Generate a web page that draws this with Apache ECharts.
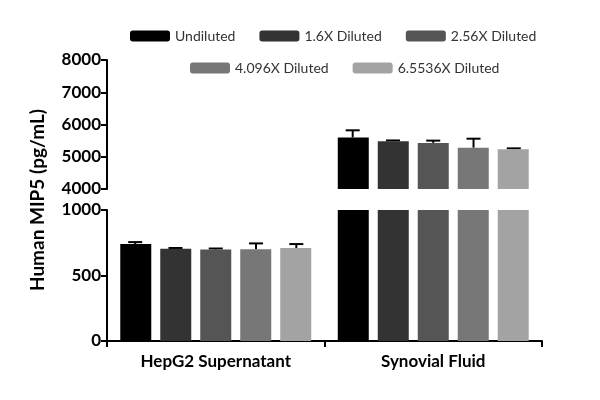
<!DOCTYPE html>
<html><head><meta charset="utf-8">
<script src="https://cdn.jsdelivr.net/npm/echarts@6/dist/echarts.min.js"></script>
<style>html,body{margin:0;background:#fff}#main{width:600px;height:400px}</style>
</head><body><div id="main"></div>
<script>
var categories = ['HepG2 Supernatant', 'Synovial Fluid'];
var seriesNames = ['Undiluted', '1.6X Diluted', '2.56X Diluted', '4.096X Diluted', '6.5536X Diluted'];
var colors = ['#000000', '#333333', '#555555', '#777777', '#a3a3a3'];
var means = [[740, 5600], [705, 5480], [698, 5430], [700, 5280], [710, 5230]];
var errs = [[15, 220], [5, 25], [8, 70], [45, 280], [30, 30]];

var font = 'Lato, sans-serif';
var myChart = echarts.init(document.getElementById('main'));
var series = [];
function errSeries(i, g) {
  return {
    type: 'custom', xAxisIndex: g, yAxisIndex: g, z: 1, clip: true,
    data: categories.map(function (c, k) { return [k, means[i][k], means[i][k] + errs[i][k]]; }),
    renderItem: function (params, api) {
      var base = api.coord([api.value(0), api.value(1)]);
      var top = api.coord([api.value(0), api.value(2)]);
      var bw = api.size([1, 0])[0];
      var x = base[0] + (i - 2) * 40 * (bw / 216);
      return { type: 'group', children: [
        { type: 'line', shape: { x1: x, y1: base[1], x2: x, y2: top[1] }, style: { stroke: '#000', lineWidth: 2 } },
        { type: 'line', shape: { x1: x - 7, y1: top[1], x2: x + 7, y2: top[1] }, style: { stroke: '#000', lineWidth: 2 } }
      ] };
    }
  };
}
seriesNames.forEach(function (n, i) {
  [0, 1].forEach(function (g) {
    series.push({ name: n, type: 'bar', xAxisIndex: g, yAxisIndex: g, data: means[i], barWidth: 31, barGap: '29%',
      itemStyle: { color: colors[i] }, clip: true, z: 2 });
  });
});
seriesNames.forEach(function (n, i) { series.push(errSeries(i, 0)); series.push(errSeries(i, 1)); });

function yAx(g, min, max, interval) {
  return { type: 'value', gridIndex: g, min: min, max: max, interval: interval,
    splitLine: { show: false },
    axisLine: { show: true, lineStyle: { color: '#000', width: 2 } },
    axisTick: { show: true, length: 6, lineStyle: { color: '#000', width: 2 } },
    axisLabel: { color: '#000', fontFamily: font, fontWeight: 'bold', fontSize: 17, margin: 6,
      formatter: function (v) { return String(v); } } };
}
var legendCommon = { itemWidth: 40, itemHeight: 11, itemGap: 24, icon: 'roundRect',
  textStyle: { fontFamily: font, fontSize: 14, color: '#333' } };

var option = {
  animation: false,
  color: colors,
  legend: [
    Object.assign({ data: seriesNames.slice(0, 3), top: 24, left: 125 }, legendCommon),
    Object.assign({ data: seriesNames.slice(3), top: 56, left: 185 }, legendCommon)
  ],
  grid: [
    { left: 107, right: 58, top: 210, height: 131 },
    { left: 107, right: 58, top: 60, height: 129 }
  ],
  xAxis: [
    { type: 'category', gridIndex: 0, data: categories,
      axisLine: { lineStyle: { color: '#000', width: 2 } },
      axisTick: { show: true, length: 6, lineStyle: { color: '#000', width: 2 } },
      axisLabel: { color: '#000', fontFamily: font, fontWeight: 'bold', fontSize: 17, margin: 12 } },
    { type: 'category', gridIndex: 1, data: categories, show: false }
  ],
  yAxis: [yAx(0, 0, 1000, 500), yAx(1, 4000, 8000, 1000)],
  graphic: [{ type: 'text', rotation: Math.PI / 2,
    style: { text: 'Human MIP5 (pg/mL)', fill: '#000', font: 'bold 19px ' + font, textAlign: 'center' },
    x: 28, y: 200 }],
  series: series
};
myChart.setOption(option);
</script></body></html>
